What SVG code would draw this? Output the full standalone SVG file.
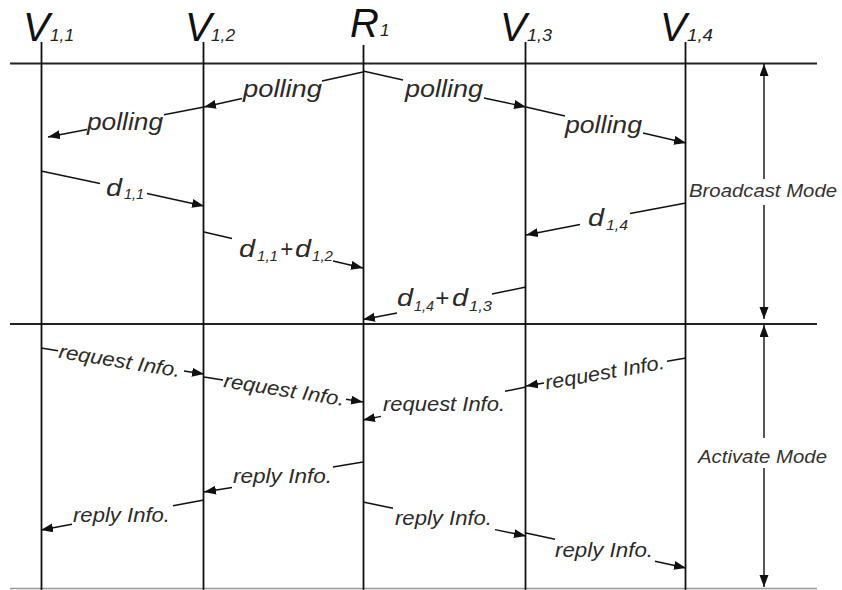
<svg xmlns="http://www.w3.org/2000/svg" width="842" height="590" viewBox="0 0 842 590">
<defs>
<style>
text{font-family:"Liberation Sans",Arial,sans-serif;}
.hdr{font-size:40px;font-style:italic;fill:#111;}
.hs{font-size:17px;font-style:italic;fill:#222;}
.life{stroke:#111;stroke-width:1.8;fill:none;}
.hline{stroke:#222;stroke-width:2;fill:none;}
.conn{stroke:#111;stroke-width:1.4;fill:none;marker-end:url(#ah);}
.lbl{font-size:23px;font-style:italic;fill:#2a2a2a;}
.d{font-size:23px;font-style:italic;fill:#2a2a2a;}
.ds{font-size:14px;font-style:italic;fill:#2a2a2a;}
.msg{font-size:20px;font-style:italic;fill:#2a2a2a;}
.mode{font-size:18px;font-style:italic;fill:#333;}
</style>
<marker id="ah" markerUnits="userSpaceOnUse" markerWidth="14" markerHeight="12" refX="12" refY="4.5" orient="auto">
<path d="M0,0 L12,4.5 L0,9 z" fill="#111"/>
</marker>
</defs>
<rect width="842" height="590" fill="#fff"/>

<g id="frame">
<line class="hline" x1="10" y1="63.5" x2="817" y2="63.5"/>
<line class="hline" x1="10" y1="324" x2="817" y2="324"/>
<line x1="10" y1="588.5" x2="817" y2="588.5" stroke="#999" stroke-width="1.5"/>
</g>

<g id="V11">
<text class="hdr" x="23" y="41">V</text>
<text class="hs" x="50" y="41" textLength="24" lengthAdjust="spacingAndGlyphs">1,1</text>
<line class="life" x1="41.5" y1="42" x2="41.5" y2="590"/>
</g>
<g id="V12">
<text class="hdr" x="185" y="41">V</text>
<text class="hs" x="211" y="41" textLength="24" lengthAdjust="spacingAndGlyphs">1,2</text>
<line class="life" x1="203.5" y1="42" x2="203.5" y2="590"/>
</g>
<g id="R1">
<text class="hdr" x="350" y="37" font-size="38">R</text>
<text class="hs" x="380" y="36" font-size="19">1</text>
<line class="life" x1="363.5" y1="45" x2="363.5" y2="590"/>
</g>
<g id="V13">
<text class="hdr" x="500" y="41">V</text>
<text class="hs" x="527" y="41" textLength="25" lengthAdjust="spacingAndGlyphs">1,3</text>
<line class="life" x1="525.5" y1="42" x2="525.5" y2="590"/>
</g>
<g id="V14">
<text class="hdr" x="660" y="41">V</text>
<text class="hs" x="687" y="41" textLength="26" lengthAdjust="spacingAndGlyphs">1,4</text>
<line class="life" x1="685.5" y1="42" x2="685.5" y2="590"/>
</g>

<g id="connectors">
<path class="conn" d="M363,72 L322,81 M242,98.5 L204,107"/>
<path class="conn" d="M204,107 L164,114.7 M87,129.5 L48,137"/>
<path class="conn" d="M363,71 L403,80 M484,98 L526,107"/>
<path class="conn" d="M526,107 L565,116 M643,133 L686,143"/>

<path class="conn" d="M41,171 L100,183.5 M147,193.5 L204,206"/>
<path class="conn" d="M204,232 L232,238.5 M333,261 L363,268"/>
<path class="conn" d="M686,203 L630,213.5 M580,224.5 L526,235"/>
<path class="conn" d="M526,287 L492,294 M397,313 L363,319.5"/>

<path class="conn" d="M41,348 L58,350.7 M184,371 L204,374"/>
<path class="conn" d="M204,377 L223,380 M346,399.3 L363,402"/>
<path class="conn" d="M686,358 L667,361.3 M544,383 L526,386"/>
<path class="conn" d="M526,387 L505,391.3 M381,416.4 L363,420"/>

<path class="conn" d="M363,462 L333,467 M232,487.5 L204,492"/>
<path class="conn" d="M204,500 L173,505.7 M72,524.3 L41,530"/>
<path class="conn" d="M363,502 L393,508.3 M495,529.6 L526,536"/>
<path class="conn" d="M526,533 L555,539.3 M655,561.2 L686,568"/>

<path class="conn" d="M764,179 L764,64"/>
<path class="conn" d="M764,205 L764,319"/>
<path class="conn" d="M764,438 L764,325"/>
<path class="conn" d="M764,468 L764,587"/>
</g>

<g id="labels">
<text class="lbl" x="243" y="97" textLength="79" lengthAdjust="spacingAndGlyphs">polling</text>
<text class="lbl" x="87" y="129.5" textLength="76" lengthAdjust="spacingAndGlyphs">polling</text>
<text class="lbl" x="405" y="96.5" textLength="78" lengthAdjust="spacingAndGlyphs">polling</text>
<text class="lbl" x="565" y="133" textLength="77" lengthAdjust="spacingAndGlyphs">polling</text>

<text class="d" x="106" y="196" textLength="16" lengthAdjust="spacingAndGlyphs">d</text><text class="ds" x="124" y="199" textLength="20" lengthAdjust="spacingAndGlyphs">1,1</text>

<text class="d" x="239" y="257" textLength="16" lengthAdjust="spacingAndGlyphs">d</text><text class="ds" x="257" y="261" textLength="21" lengthAdjust="spacingAndGlyphs">1,1</text>
<text class="d" x="280" y="257" textLength="13" lengthAdjust="spacingAndGlyphs">+</text>
<text class="d" x="295" y="257" textLength="16" lengthAdjust="spacingAndGlyphs">d</text><text class="ds" x="312" y="261" textLength="21" lengthAdjust="spacingAndGlyphs">1,2</text>

<text class="d" x="588" y="226" textLength="16" lengthAdjust="spacingAndGlyphs">d</text><text class="ds" x="606" y="230" textLength="22" lengthAdjust="spacingAndGlyphs">1,4</text>

<text class="d" x="397" y="306" textLength="16" lengthAdjust="spacingAndGlyphs">d</text><text class="ds" x="414" y="311" textLength="20" lengthAdjust="spacingAndGlyphs">1,4</text>
<text class="d" x="435" y="306" textLength="14" lengthAdjust="spacingAndGlyphs">+</text>
<text class="d" x="452" y="306" textLength="16" lengthAdjust="spacingAndGlyphs">d</text><text class="ds" x="469" y="311" textLength="23" lengthAdjust="spacingAndGlyphs">1,3</text>

<text class="msg" transform="translate(59,350.9) rotate(9.09)" x="0" y="7" textLength="123" lengthAdjust="spacingAndGlyphs">request Info.</text>
<text class="msg" transform="translate(224,380.1) rotate(8.94)" x="0" y="7" textLength="122" lengthAdjust="spacingAndGlyphs">request Info.</text>
<text class="msg" transform="translate(545,382.7) rotate(-9.93)" x="0" y="7" textLength="121" lengthAdjust="spacingAndGlyphs">request Info.</text>
<text class="msg" x="383" y="411" textLength="122" lengthAdjust="spacingAndGlyphs">request Info.</text>

<text class="msg" x="233" y="483" textLength="99" lengthAdjust="spacingAndGlyphs">reply Info.</text>
<text class="msg" x="73" y="522" textLength="97" lengthAdjust="spacingAndGlyphs">reply Info.</text>
<text class="msg" x="395" y="525" textLength="97" lengthAdjust="spacingAndGlyphs">reply Info.</text>
<text class="msg" x="555" y="557" textLength="98" lengthAdjust="spacingAndGlyphs">reply Info.</text>

<text class="mode" x="689" y="197" textLength="148" lengthAdjust="spacingAndGlyphs">Broadcast Mode</text>
<text class="mode" x="698" y="463" textLength="129" lengthAdjust="spacingAndGlyphs">Activate Mode</text>
</g>
</svg>
